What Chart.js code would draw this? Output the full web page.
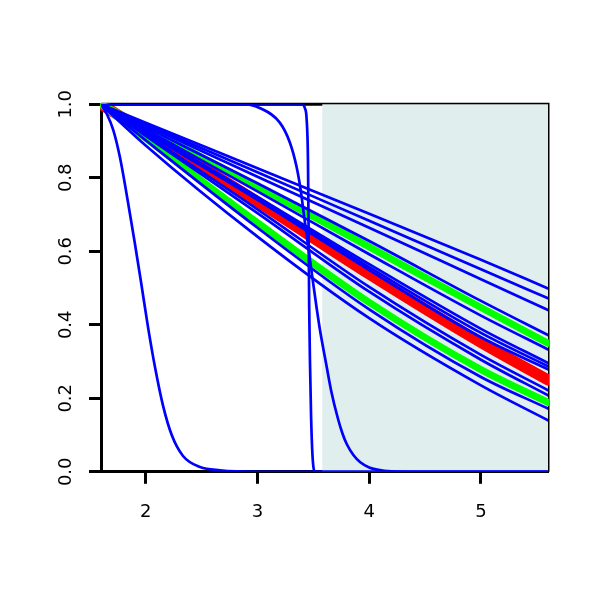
<!DOCTYPE html>
<html><head><meta charset="utf-8">
<script src="https://cdn.jsdelivr.net/npm/chart.js@4.4.1/dist/chart.umd.min.js"></script>
<style>html,body{margin:0;padding:0;background:#fff}canvas{display:block}</style>
</head><body>
<canvas id="c" width="600" height="600"></canvas>
<script>
// ---- data ----
const xGrid  = [1.6, 2, 3, 4, 5, 5.6];
const blue1  = [1, 0.950, 0.826, 0.702, 0.577, 0.499];
const blue2  = [1, 0.946, 0.815, 0.683, 0.551, 0.472];
const blue3  = [1, 0.943, 0.803, 0.664, 0.524, 0.440];
const blue4  = [1, 0.938, 0.785, 0.628, 0.465, 0.372];
const blue5  = [1, 0.932, 0.763, 0.592, 0.425, 0.333];
const blue6  = [1, 0.928, 0.748, 0.565, 0.389, 0.296];
const blue7  = [1, 0.926, 0.744, 0.557, 0.378, 0.287];
const blue8  = [1, 0.924, 0.740, 0.549, 0.366, 0.279];
const blue9  = [1, 0.918, 0.714, 0.503, 0.318, 0.222];
const blue10 = [1, 0.914, 0.704, 0.490, 0.305, 0.208];
const blue11 = [1, 0.902, 0.664, 0.442, 0.258, 0.172];
const blue12 = [1, 0.888, 0.640, 0.418, 0.235, 0.140];
const green1 = [1, 0.936, 0.776, 0.612, 0.447, 0.350];
const green2 = [1, 0.908, 0.678, 0.461, 0.278, 0.189];
const red1   = [1, 0.924, 0.735, 0.538, 0.352, 0.250];

const steepX = [1.6, 1.65, 1.71, 1.77, 1.86, 1.904, 1.964, 2.02, 2.083, 2.155, 2.233, 2.334, 2.486, 2.665, 3.0, 5.6];
const steepY = [1, 0.975, 0.93, 0.855, 0.70, 0.62, 0.505, 0.395, 0.285, 0.18, 0.10, 0.043, 0.013, 0.004, 0, 0];

const sigX = [1.6, 2.9, 3.02, 3.20, 3.29, 3.35, 3.385, 3.42, 3.46, 3.50, 3.53, 3.56, 3.62, 3.66, 3.72, 3.76, 3.80, 3.86, 3.92, 4.0, 4.07, 4.2, 4.4, 5.6];
const sigY = [1, 1, 0.99, 0.95, 0.896, 0.83, 0.77, 0.69, 0.60, 0.51, 0.445, 0.385, 0.285, 0.22, 0.145, 0.105, 0.075, 0.045, 0.026, 0.012, 0.006, 0.001, 0, 0];

const stepX = [1.6, 3.40, 3.424, 3.44, 3.452, 3.458, 3.463, 3.47, 3.48, 3.49, 3.50, 3.515, 5.6];
const stepY = [1, 1, 0.99, 0.96, 0.85, 0.65, 0.45, 0.30, 0.15, 0.06, 0.015, 0, 0];

const shadeFrom = 3.58, shadeTo = 5.6;
const xTicks = [2, 3, 4, 5];
const xTickLabels = ['2', '3', '4', '5'];
const yTicks = [0, 0.2, 0.4, 0.6, 0.8, 1.0];
const yTickLabels = ['0.0', '0.2', '0.4', '0.6', '0.8', '1.0'];

// ---- styles ----
const BLUE = '#0000FF', GREEN = '#00FF00', RED = '#FF0000', SHADE = '#E0EEEE';
const FONT = {family: '"DejaVu Sans", "Liberation Sans", Arial, sans-serif', size: 18};

function pts(xs, ys) { return xs.map((x, i) => ({x: x, y: ys[i]})); }
function ds(xs, ys, color, width, order, clip) {
  const d = {
    data: pts(xs, ys), borderColor: color, borderWidth: width, order: order,
    showLine: true, pointRadius: 0, pointHoverRadius: 0, fill: false,
    cubicInterpolationMode: 'monotone', borderCapStyle: 'round', borderJoinStyle: 'round'
  };
  if (clip !== undefined) d.clip = clip;
  return d;
}

const blues = [blue1, blue2, blue3, blue4, blue5, blue6, blue7, blue8, blue9, blue10, blue11, blue12];
const datasets = [];
blues.forEach(b => datasets.push(ds(xGrid, b, BLUE, 2.7, 0)));
datasets.push(ds(steepX, steepY, BLUE, 2.7, 0));
datasets.push(ds(sigX, sigY, BLUE, 2.7, 0));
datasets.push(ds(stepX, stepY, BLUE, 2.7, 0));
datasets.push(ds(xGrid, green1, GREEN, 7, 1, 1));
datasets.push(ds(xGrid, green2, GREEN, 7, 1, 1));
datasets.push(ds(xGrid, red1, RED, 11, 2, 1));

const frameAndShade = {
  id: 'frameAndShade',
  beforeDatasetsDraw(chart) {
    const {ctx, chartArea: a, scales: {x, y}} = chart;
    ctx.save();
    ctx.strokeStyle = '#000';
    ctx.lineWidth = 3;
    ctx.beginPath();
    ctx.moveTo(a.left, a.top);
    ctx.lineTo(a.right, a.top);
    ctx.lineTo(a.right, a.bottom);
    ctx.stroke();
    const x0 = x.getPixelForValue(shadeFrom), x1 = x.getPixelForValue(shadeTo);
    const y0 = y.getPixelForValue(1), y1 = y.getPixelForValue(0);
    ctx.fillStyle = SHADE;
    ctx.fillRect(x0, y0, x1 - x0, y1 - y0);
    ctx.restore();
  }
};

new Chart(document.getElementById('c'), {
  type: 'scatter',
  data: {datasets: datasets},
  plugins: [frameAndShade],
  options: {
    responsive: false, animation: false, devicePixelRatio: 1,
    layout: {padding: {left: 51, right: 52, top: 104.3, bottom: 68.2}},
    plugins: {legend: {display: false}, tooltip: {enabled: false}},
    events: [],
    scales: {
      x: {
        type: 'linear', position: 'bottom', min: 1.6, max: 5.6,
        grid: {drawOnChartArea: false, drawTicks: true, tickLength: 12, tickWidth: 3, tickColor: '#000'},
        border: {display: true, width: 3, color: '#000'},
        ticks: {color: '#000', font: FONT, padding: 18,
          callback: (v) => { const i = xTicks.indexOf(v); return i >= 0 ? xTickLabels[i] : ''; }},
        afterBuildTicks: (s) => { s.ticks = xTicks.map(v => ({value: v})); },
        afterFit: (s) => { s.height = 60; }
      },
      y: {
        type: 'linear', position: 'left', min: 0, max: 1,
        grid: {drawOnChartArea: false, drawTicks: true, tickLength: 12, tickWidth: 3, tickColor: '#000'},
        border: {display: true, width: 3, color: '#000'},
        ticks: {color: '#000', font: FONT, padding: 8, minRotation: 90, maxRotation: 90, crossAlign: 'center',
          callback: (v) => { const i = yTicks.findIndex(t => Math.abs(t - v) < 1e-9); return i >= 0 ? yTickLabels[i] : ''; }},
        afterBuildTicks: (s) => { s.ticks = yTicks.map(v => ({value: v})); },
        afterFit: (s) => { s.width = 50; }
      }
    }
  }
});
</script>
</body></html>
